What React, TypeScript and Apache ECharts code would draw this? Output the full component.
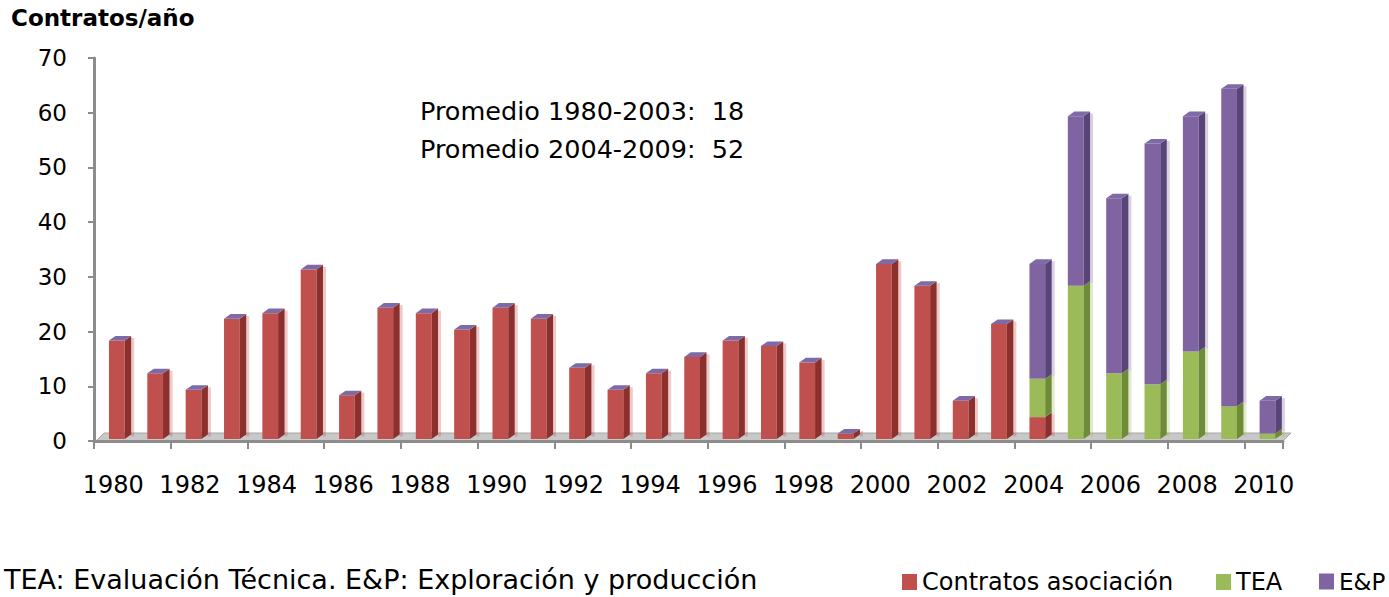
import React, { useEffect, useRef } from 'react';
import * as echarts from 'echarts';

const years = ['1980','1981','1982','1983','1984','1985','1986','1987','1988','1989','1990','1991','1992','1993','1994','1995','1996','1997','1998','1999','2000','2001','2002','2003','2004','2005','2006','2007','2008','2009','2010'];
const asociacion = [18,12,9,22,23,31,8,24,23,20,24,22,13,9,12,15,18,17,14,1,32,28,7,21,4,0,0,0,0,0,0];
const tea = [0,0,0,0,0,0,0,0,0,0,0,0,0,0,0,0,0,0,0,0,0,0,0,0,7,28,12,10,16,6,1];
const ep = [0,0,0,0,0,0,0,0,0,0,0,0,0,0,0,0,0,0,0,0,0,0,0,0,21,31,32,44,43,58,6];
const seriesNames = ['Contratos asociación', 'TEA', 'E&P'];
const avgLines = ['Promedio 1980-2003:  18', 'Promedio 2004-2009:  52'];
const yAxisTitle = 'Contratos/año';
const footnote = 'TEA: Evaluación Técnica. E&P: Exploración y producción';

const frontColors = ['#C0504D', '#9BBB59', '#8064A2'];
const sideColors = ['#8B302D', '#6E8B38', '#584476'];
const capColor = '#7D6AA6';
const FONT = 'DejaVu Sans';

function buildLayers() {
  const layers = [asociacion, tea, ep];
  const totals = years.map((_, i) => layers.reduce((s, l) => s + l[i], 0));
  return layers.map((layer, k) =>
    years.map((_, i) => {
      let base = 0;
      for (let j = 0; j < k; j++) base += layers[j][i];
      const top = base + layer[i];
      return [i, base, top, layer[i] > 0 && top === totals[i] ? 1 : 0];
    })
  );
}

export default function App() {
  const ref = useRef<HTMLDivElement>(null);
  useEffect(() => {
    if (!ref.current) return;
    const chart = echarts.init(ref.current, null, { renderer: 'svg' });
    const layers = buildLayers();

    const makeRender = (k: number) => (params: any, api: any) => {
      const idx = api.value(0);
      const base = api.value(1);
      const top = api.value(2);
      const isTop = api.value(3);
      if (top - base <= 0) return null;
      const p0 = api.coord([idx, base]);
      const p1 = api.coord([idx, top]);
      const bw = api.size([1, 0])[0];
      const w = bw * 0.41;
      const x0 = p0[0] - bw * 0.11;
      const dx = bw * 0.17;
      const dy = bw * 0.12;
      const yb = p0[1] - 2;
      const yt = p1[1] - 2;
      const children: any[] = [
        {
          type: 'rect',
          shape: { x: x0 + w + dx, y: yt - dy + 2, width: 3, height: yb - yt },
          style: { fill: frontColors[k], opacity: 0.3 },
        },
        {
          type: 'rect',
          shape: { x: x0, y: yt, width: w, height: yb - yt },
          style: { fill: frontColors[k] },
        },
        {
          type: 'polygon',
          shape: { points: [[x0 + w, yt], [x0 + w + dx, yt - dy], [x0 + w + dx, yb - dy], [x0 + w, yb]] },
          style: { fill: sideColors[k] },
        },
      ];
      if (isTop) {
        children.push({
          type: 'polygon',
          shape: { points: [[x0, yt], [x0 + dx, yt - dy], [x0 + w + dx, yt - dy], [x0 + w, yt]] },
          style: { fill: capColor },
        });
      }
      return { type: 'group', children };
    };

    const legendBase = {
      orient: 'horizontal',
      top: 565,
      itemWidth: 15,
      itemHeight: 16,
      icon: 'rect',
      textStyle: { fontFamily: FONT, fontSize: 24, color: '#000' },
      itemGap: 8,
    };

    chart.setOption({
      animation: false,
      backgroundColor: '#fff',
      grid: { left: 94, right: 106, top: 58, bottom: 156 },
      legend: [
        { ...legendBase, left: 897, data: [seriesNames[0]] },
        { ...legendBase, left: 1211, data: [seriesNames[1]] },
        { ...legendBase, left: 1314, data: [seriesNames[2]], textStyle: { ...legendBase.textStyle, fontSize: 23 } },
      ],
      xAxis: {
        type: 'category',
        data: years,
        boundaryGap: true,
        axisLine: { lineStyle: { color: '#8C8C8C', width: 3 } },
        axisTick: { show: true, length: 8, lineStyle: { color: '#8C8C8C', width: 2 } },
        axisLabel: { interval: 1, margin: 32, fontFamily: FONT, fontSize: 24, color: '#000' },
      },
      yAxis: {
        type: 'value',
        min: 0,
        max: 70,
        interval: 10,
        splitLine: { show: false },
        axisLine: { show: true, lineStyle: { color: '#8C8C8C', width: 3 } },
        axisTick: { show: true, length: 6, lineStyle: { color: '#8C8C8C', width: 2 } },
        axisLabel: { margin: 27, fontFamily: FONT, fontSize: 23, color: '#000' },
      },
      graphic: [
        {
          type: 'polygon',
          z: 0,
          shape: { points: [[96, 441], [1283, 441], [1291, 433], [104, 433]] },
          style: { fill: '#C8C8C8', stroke: '#A6A6A6', lineWidth: 1 },
        },
        {
          type: 'text',
          left: 11,
          top: 6,
          style: { text: yAxisTitle, fontFamily: FONT, fontWeight: 'bold', fontSize: 23, fill: '#000' },
        },
        {
          type: 'text',
          left: 420,
          top: 92,
          style: { text: avgLines.join('\n'), fontFamily: FONT, fontSize: 25.5, lineHeight: 38, fill: '#000' },
        },
        {
          type: 'text',
          left: 4,
          top: 566,
          style: { text: footnote, fontFamily: FONT, fontSize: 27, fill: '#000' },
        },
      ],
      series: layers.map((data, k) => ({
        type: 'custom',
        name: seriesNames[k],
        z: 5,
        itemStyle: { color: frontColors[k] },
        encode: { x: 0, y: [1, 2] },
        data,
        renderItem: makeRender(k),
      })),
    });
    return () => chart.dispose();
  }, []);
  return <div ref={ref} style={{ position: 'fixed', left: 0, top: 0, width: 1389, height: 597 }} />;
}
